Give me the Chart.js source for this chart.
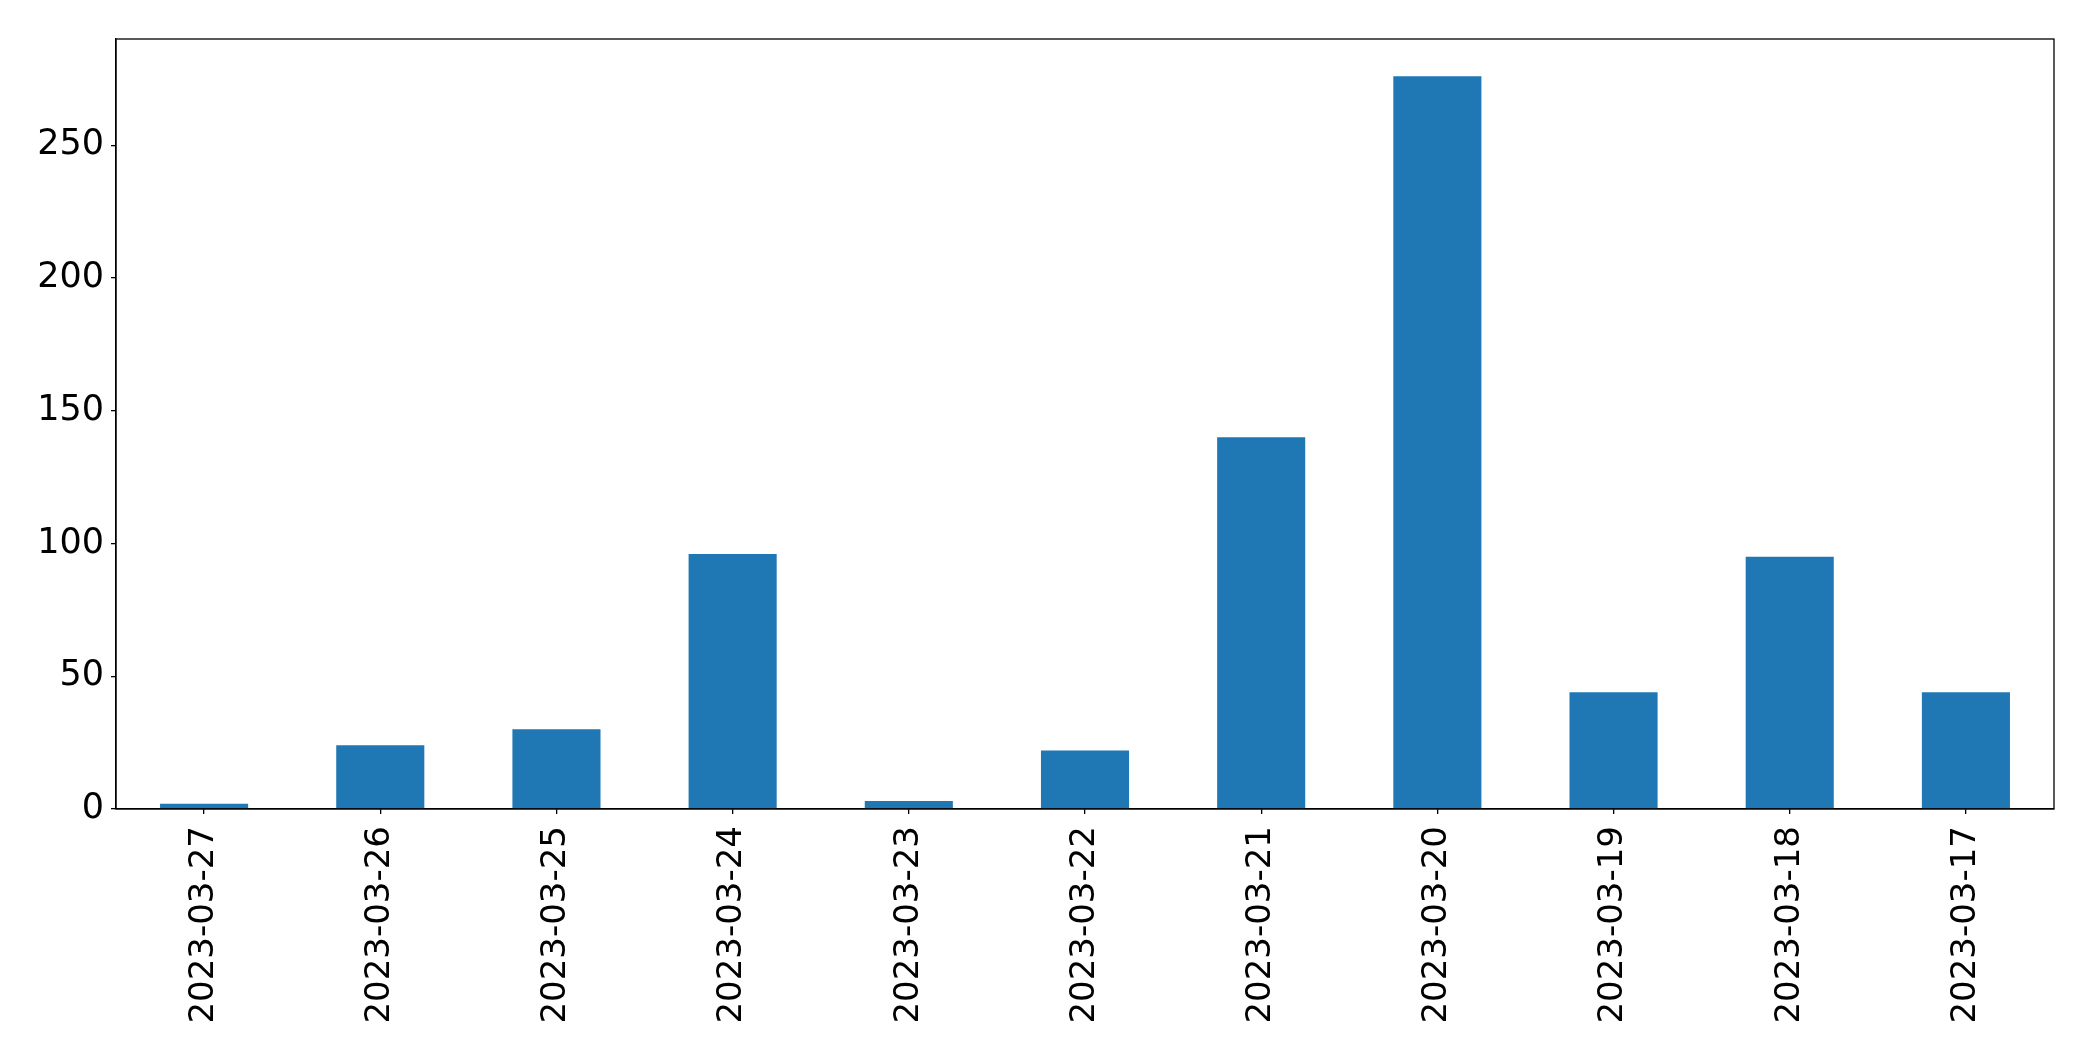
<!DOCTYPE html>
<html>
<head>
<meta charset="utf-8">
<script src="https://cdn.jsdelivr.net/npm/chart.js@4"></script>
<style>
  html, body { margin: 0; padding: 0; background: #fff; }
  canvas { display: block; }
</style>
</head>
<body>
<canvas id="c" width="2093" height="1061"></canvas>
<script>
const categories = ["2023-03-27", "2023-03-26", "2023-03-25", "2023-03-24", "2023-03-23", "2023-03-22", "2023-03-21", "2023-03-20", "2023-03-19", "2023-03-18", "2023-03-17"];
const values = [2, 24, 30, 96, 3, 22, 140, 276, 44, 95, 44];
const yTicks = [0, 50, 100, 150, 200, 250];

const frame = {
  id: 'frame',
  afterDraw(chart) {
    const a = chart.chartArea, ctx = chart.ctx;
    ctx.save();
    ctx.strokeStyle = '#000';
    ctx.lineWidth = 1.3;
    ctx.strokeRect(a.left, a.top, a.right - a.left, a.bottom - a.top);
    ctx.restore();
  }
};

new Chart(document.getElementById('c'), {
  type: 'bar',
  data: {
    labels: categories,
    datasets: [{
      data: values,
      backgroundColor: '#1f77b4',
      borderWidth: 0,
      barPercentage: 0.5,
      categoryPercentage: 1.0
    }]
  },
  options: {
    responsive: false,
    animation: false,
    devicePixelRatio: 1,
    layout: { padding: { top: 39, right: 39, left: 0, bottom: 0 } },
    plugins: { legend: { display: false }, tooltip: { enabled: false } },
    scales: {
      x: {
        offset: true,
        grid: { display: true, offset: false, drawOnChartArea: false, drawTicks: true, tickLength: 5, color: '#000', lineWidth: 1.3 },
        border: { display: true, color: '#000', width: 1.3 },
        ticks: {
          color: '#000',
          font: { family: 'DejaVu Sans', size: 34 },
          minRotation: 90,
          maxRotation: 90,
          padding: 12,
          autoSkip: false
        },
        afterFit(scale) { scale.height = 1061 - 809; }
      },
      y: {
        min: 0,
        max: 290,
        grid: { display: true, drawOnChartArea: false, drawTicks: true, tickLength: 5, color: '#000', lineWidth: 1.3 },
        border: { display: true, color: '#000', width: 1.3 },
        ticks: {
          color: '#000',
          font: { family: 'DejaVu Sans', size: 35 },
          stepSize: 50,
          padding: 7
        },
        afterBuildTicks(scale) { scale.ticks = yTicks.map(v => ({ value: v })); },
        afterFit(scale) { scale.width = 116; }
      }
    }
  },
  plugins: [frame]
});
</script>
</body>
</html>
